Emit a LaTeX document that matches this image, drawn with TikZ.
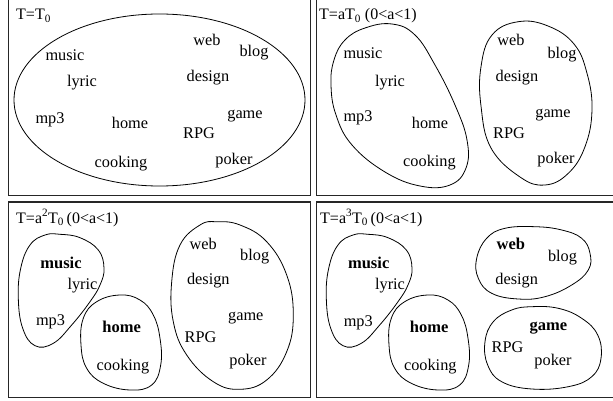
\documentclass[tikz,border=0pt]{standalone}
\usepackage{fontspec}
\setmainfont{Liberation Serif}
\begin{document}
\begin{tikzpicture}[x=1pt,y=-1pt,
  frame/.style={draw=black!85,line width=1.1pt},
  blob/.style={draw=black,line width=0.8pt},
  word/.style={inner sep=0pt,font=\fontsize{16.3}{18}\selectfont},
  bword/.style={word,font=\fontsize{16.5}{18}\selectfont\bfseries},
  ttl/.style={inner sep=0pt,anchor=west,font=\fontsize{16}{18}\selectfont}]
\useasboundingbox (0,0) rectangle (613,401);
\clip (0,0) rectangle (613,401);
% frames
\draw[frame] (8.5,-5) rectangle (310.5,195.5);
\draw[frame] (316.5,-5) rectangle (620,195.5);
\draw[frame] (8.5,202) rectangle (310.5,397.5);
\draw[frame] (316.5,202) rectangle (620,397.5);
% ---------- panel 1
\node[ttl] (t1) at (16,16) {T=T\textsubscript{0}};
\draw[blob] (159.5,100) ellipse [x radius=145.5, y radius=86];
\node[word] (a1) at (65,55) {music};
\node[word] (a2) at (82,83) {lyric};
\node[word] (a3) at (50,120) {mp3};
\node[word] (a4) at (130,123) {home};
\node[word] (a5) at (121,164) {cooking};
\node[word] (a6) at (207,40) {web};
\node[word] (a7) at (254,53) {blog};
\node[word] (a8) at (208,78) {design};
\node[word] (a9) at (245,116) {game};
\node[word] (a10) at (199,133) {RPG};
\node[word] (a11) at (234,161) {poker};
% ---------- panel 2
\node[ttl] (t2) at (319,16) {T=aT\textsubscript{0} (0<a<1)};
\draw[blob] plot[smooth cycle,tension=0.7] coordinates {(392,24) (365,28) (345,40) (334,60) (331,85) (336,115) (352,145) (385,172) (420,186) (450,185) (466,168) (467,140) (455,105) (435,65) (415,35)};
\draw[blob] plot[smooth cycle,tension=0.7] coordinates {(518.3,21.7) (492,35) (481,66.7) (481,106) (491,148) (520,177) (545,185) (568.3,173.3) (585,146.7) (592,110) (587,73.3) (574,44) (548,26)};
\node[word] (b1) at (363,53) {music};
\node[word] (b2) at (390,83) {lyric};
\node[word] (b3) at (358,118) {mp3};
\node[word] (b4) at (430,123) {home};
\node[word] (b5) at (429.5,163) {cooking};
\node[word] (b6) at (511,40) {web};
\node[word] (b7) at (562,55) {blog};
\node[word] (b8) at (517,78) {design};
\node[word] (b9) at (553,115) {game};
\node[word] (b10) at (509,133) {RPG};
\node[word] (b11) at (556,160) {poker};
% ---------- panel 3
\node[ttl] (t3) at (16,218) {T=a\textsuperscript{2}T\textsubscript{0}\,(0<a<1)};
\draw[blob] plot[smooth cycle,tension=0.7] coordinates {(45,235) (30,245) (20.7,268.3) (18.3,298.3) (22.7,328.3) (35,345.7) (53.3,343.3) (71.7,325) (90,301.7) (100,285) (104,268.3) (98.3,250) (80,237.7) (60,234.3)};
\draw[blob] plot[smooth cycle,tension=0.7] coordinates {(120,295) (96.7,301.7) (83.3,318.3) (81,345) (86.7,368.3) (103.3,383.3) (130,390) (151.7,385) (160.7,365) (160,338.3) (153.3,315) (140,300)};
\draw[blob] plot[smooth cycle,tension=0.7] coordinates {(200,225) (180,245) (171.7,281.7) (173.3,321.7) (186.7,355) (213.3,381.7) (240,389.3) (266.7,380) (286.7,351.7) (293.3,315) (286.7,275) (266.7,241.7) (240,225) (216.7,221.7)};
\node[bword] (c1) at (61,263) {music};
\node[word] (c2) at (82.5,286) {lyric};
\node[word] (c3) at (50.5,322) {mp3};
\node[bword] (c4) at (121.7,327) {home};
\node[word] (c5) at (123,367) {cooking};
\node[word] (c6) at (203.3,244) {web};
\node[word] (c7) at (254.7,256.7) {blog};
\node[word] (c8) at (208.3,280.7) {design};
\node[word] (c9) at (245.8,318.3) {game};
\node[word] (c10) at (200.5,336.7) {RPG};
\node[word] (c11) at (248,361.7) {poker};
% ---------- panel 4
\node[ttl] (t4) at (320,218) {T=a\textsuperscript{3}T\textsubscript{0}\,(0<a<1)};
\begin{scope}[shift={(308,0)}]
\draw[blob] plot[smooth cycle,tension=0.7] coordinates {(45,235) (30,245) (20.7,268.3) (18.3,298.3) (22.7,328.3) (35,345.7) (53.3,343.3) (71.7,325) (90,301.7) (100,285) (104,268.3) (98.3,250) (80,237.7) (60,234.3)};
\draw[blob] plot[smooth cycle,tension=0.7] coordinates {(120,295) (96.7,301.7) (83.3,318.3) (81,345) (86.7,368.3) (103.3,383.3) (130,390) (151.7,385) (160.7,365) (160,338.3) (153.3,315) (140,300)};
\end{scope}
\draw[blob] plot[smooth cycle,tension=0.7] coordinates {(505,228.3) (486.7,238.3) (476.7,258.3) (478.3,278.3) (491.7,293.3) (518.3,299) (545,296.7) (571.7,285) (588.3,270) (590,253.3) (581.7,238.3) (561.7,230) (535,226.7)};
\draw[blob] plot[smooth cycle,tension=0.7] coordinates {(511.7,310) (493.3,321.7) (485,341.7) (487.7,365) (501.7,381.7) (531.7,389) (568.3,386.7) (591.7,376.7) (601,358.3) (597.7,335) (581.7,318.3) (558.3,308.3) (531.7,306.7)};
\node[bword] (d1) at (368.7,263.3) {music};
\node[word] (d2) at (390,285.7) {lyric};
\node[word] (d3) at (358.3,323.3) {mp3};
\node[bword] (d4) at (429.2,326.7) {home};
\node[word] (d5) at (430.3,366.7) {cooking};
\node[bword] (d6) at (510.8,244.3) {web};
\node[word] (d7) at (562.5,257.7) {blog};
\node[word] (d8) at (516.7,281) {design};
\node[bword] (d9) at (548.3,328.3) {game};
\node[word] (d10) at (507.5,346.7) {RPG};
\node[word] (d11) at (553,361.7) {poker};
\end{tikzpicture}
\end{document}
